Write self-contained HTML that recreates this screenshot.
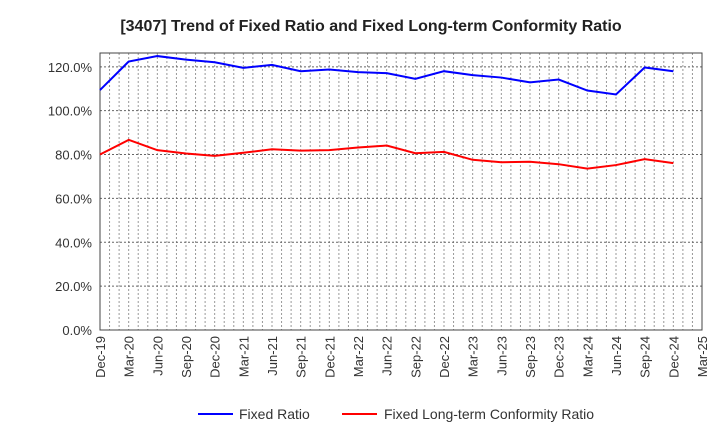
<!DOCTYPE html>
<html><head><meta charset="utf-8"><style>
html,body{margin:0;padding:0;background:#fff;}
svg{display:block;font-family:"Liberation Sans",Arial,sans-serif;}
</style></head><body>
<svg id="chart" width="720" height="440">
<text x="371" y="31" text-anchor="middle" font-size="16" font-weight="bold" fill="#222">[3407]  Trend of Fixed Ratio and Fixed Long-term Conformity Ratio</text>
<g id="grid"></g><g id="axes"></g><g id="series"></g>
<g>
<line x1="198" y1="414" x2="233" y2="414" stroke="#0000ff" stroke-width="2"/>
<text x="239" y="419" font-size="14" fill="#333">Fixed Ratio</text>
<line x1="342" y1="414" x2="377" y2="414" stroke="#ff0000" stroke-width="2"/>
<text x="384" y="419" font-size="14" fill="#333">Fixed Long-term Conformity Ratio</text>
</g>
</svg>
<script>
const categories=["Dec-19","Mar-20","Jun-20","Sep-20","Dec-20","Mar-21","Jun-21","Sep-21","Dec-21","Mar-22","Jun-22","Sep-22","Dec-22","Mar-23","Jun-23","Sep-23","Dec-23","Mar-24","Jun-24","Sep-24","Dec-24","Mar-25"];
const fixedRatio=[109.4,122.4,124.9,123.3,122.1,119.5,120.9,118.0,118.8,117.6,117.1,114.5,118.0,116.2,115.1,112.9,114.2,109.2,107.4,119.7,118.0];
const conformityRatio=[80.0,86.7,82.0,80.5,79.4,80.8,82.4,81.8,82.0,83.2,84.1,80.6,81.2,77.6,76.5,76.7,75.6,73.6,75.2,77.9,76.1];
const yTicks=[0,20,40,60,80,100,120];
const NS="http://www.w3.org/2000/svg";
const L=100,R=702,T=53,B=330,yMax=126.3;
const x=i=>L+i*(R-L)/(categories.length-1);
const y=v=>B-v/yMax*(B-T);
function mk(tag,attrs,parent){const e=document.createElementNS(NS,tag);for(const k in attrs)e.setAttribute(k,attrs[k]);document.getElementById(parent).appendChild(e);return e;}
for(let m=1;m<(categories.length-1)*3;m++){
 const xx=L+m*(R-L)/((categories.length-1)*3);
 const g=mk('line',{x1:xx,x2:xx,y1:T,y2:B,stroke:'#999','stroke-dasharray':'2,2','stroke-width':1},'grid');
 
 
}
yTicks.forEach(v=>{
 if(v>0){const g=mk('line',{x1:L,x2:R,y1:y(v),y2:y(v),stroke:'#666','stroke-dasharray':'2,2','stroke-width':1},'grid');
 
 }
 const t=mk('text',{x:L-8,y:y(v)+5,'text-anchor':'end','font-size':13,fill:'#333'},'axes');
 t.textContent=v.toFixed(1)+'%';
 
 
});
const frame=mk('rect',{x:L,y:T,width:R-L,height:B-T,fill:'none',stroke:'#444','stroke-width':1},'axes');


categories.forEach((c,i)=>{
 const t=mk('text',{x:0,y:0,'text-anchor':'end','font-size':13,fill:'#333',transform:`translate(${x(i)+5},${B+6}) rotate(-90)`},'axes');
 t.textContent=c;
 
 
});
function line(data,color,name){
 const p=mk('polyline',{points:data.map((v,i)=>x(i)+','+y(v)).join(' '),fill:'none',stroke:color,'stroke-width':2},'series');
 
 
}
line(fixedRatio,'#0000ff','fixed-ratio-line');
line(conformityRatio,'#ff0000','conformity-ratio-line');
</script>
</body></html>
